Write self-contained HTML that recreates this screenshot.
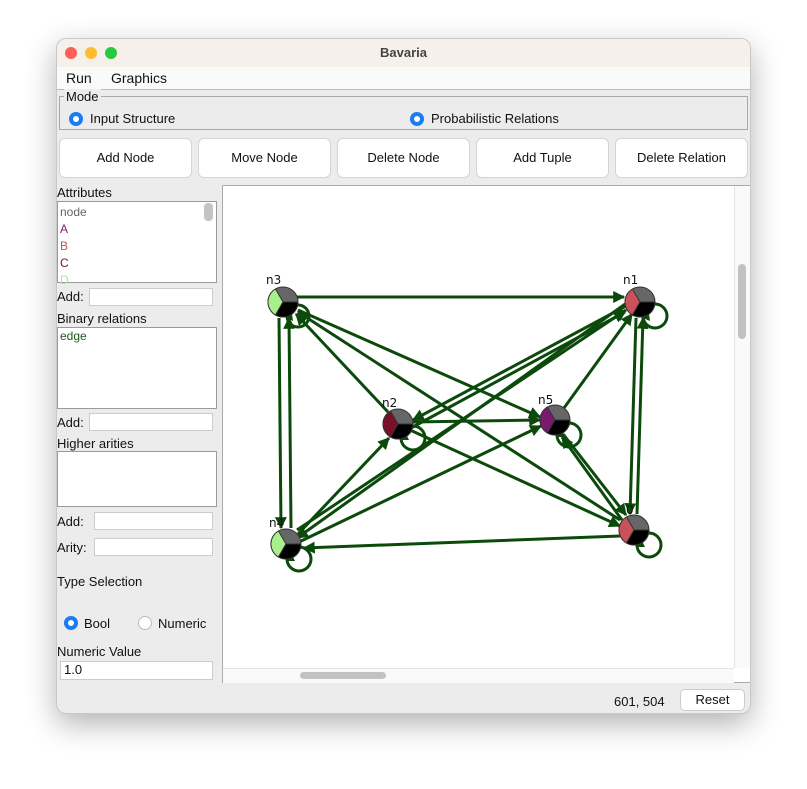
<!DOCTYPE html>
<html><head><meta charset="utf-8"><style>
body{margin:0;width:807px;height:789px;background:#fff;font-family:"Liberation Sans",sans-serif;font-size:13px;color:#111;position:relative;overflow:hidden}
.win{position:absolute;left:56px;top:38px;width:695px;height:676px;background:#ececec;border-radius:10px;box-shadow:0 10px 30px rgba(0,0,0,.3);overflow:hidden;border:1px solid #c8c8c8;box-sizing:border-box}
.abs{position:absolute}
.title{left:0;top:0;width:100%;height:28px;background:#f6f0ea;border-bottom:1px solid #d8d8d8;text-align:center;line-height:28px;font-weight:bold;color:#444}
.dot{width:12px;height:12px;border-radius:50%;top:8px}
.menu{top:28px;left:0;width:100%;height:22px;background:#fafafa;border-bottom:1px solid #bbb}
.btn{top:100px;width:131px;height:38px;background:#fff;border-radius:5px;box-shadow:0 0 0 1px #d4d4d4;text-align:center;line-height:38px;font-size:13px}
.box{background:#fff;border:1px solid #9a9a9a;box-sizing:border-box}
.field{background:#fff;border:1px solid #ccc;box-sizing:border-box;height:18px}
.radio{width:14px;height:14px;border-radius:50%;background:#1a7cf5;box-sizing:border-box}
.radio::after{content:"";position:absolute;left:4px;top:4px;width:6px;height:6px;border-radius:50%;background:#fff}
</style></head><body>
<div class="win">
 <div class="abs title">Bavaria</div>
 <div class="abs dot" style="left:8px;background:#fe5f57"></div>
 <div class="abs dot" style="left:28px;background:#febc2e"></div>
 <div class="abs dot" style="left:48px;background:#28c840"></div>
 <div class="abs menu"><span class="abs" style="left:9px;top:3px;font-size:14px">Run</span><span class="abs" style="left:54px;top:3px;font-size:14px">Graphics</span></div>
 <div class="abs" style="left:2px;top:57px;width:689px;height:34px;border:1px solid #aaa;box-sizing:border-box"></div>
 <div class="abs" style="left:7px;top:50px;background:#ececec;padding:0 2px;font-size:13px">Mode</div>
 <div class="abs radio" style="left:12px;top:73px"></div><div class="abs" style="left:33px;top:72px">Input Structure</div>
 <div class="abs radio" style="left:353px;top:73px"></div><div class="abs" style="left:374px;top:72px">Probabilistic Relations</div>
 <div class="abs btn" style="left:3px">Add Node</div>
 <div class="abs btn" style="left:142px">Move Node</div>
 <div class="abs btn" style="left:281px">Delete Node</div>
 <div class="abs btn" style="left:420px">Add Tuple</div>
 <div class="abs btn" style="left:559px">Delete Relation</div>
 <div class="abs" style="left:0;top:146px">Attributes</div>
 <div class="abs box" style="left:0;top:162px;width:160px;height:82px"></div>
 <div class="abs" style="left:147px;top:164px;width:9px;height:18px;border-radius:4px;background:#c4c4c4"></div>
 <div class="abs" style="left:3px;top:165px;font-size:12px;line-height:17px;color:#666">node<br><span style="color:#7a1a6e">A</span><br><span style="color:#c9525a">B</span><br><span style="color:#7a0f2a">C</span><br><span style="color:#9ef08a">D</span></div>
 <div class="abs" style="left:0;top:250px">Add:</div><div class="abs field" style="left:32px;top:249px;width:124px"></div>
 <div class="abs" style="left:0;top:272px">Binary relations</div>
 <div class="abs box" style="left:0;top:288px;width:160px;height:82px"></div>
 <div class="abs" style="left:3px;top:290px;font-size:12px;color:#1e5a1e">edge</div>
 <div class="abs" style="left:0;top:376px">Add:</div><div class="abs field" style="left:32px;top:374px;width:124px"></div>
 <div class="abs" style="left:0;top:397px">Higher arities</div>
 <div class="abs box" style="left:0;top:412px;width:160px;height:56px"></div>
 <div class="abs" style="left:0;top:475px">Add:</div><div class="abs field" style="left:37px;top:473px;width:119px"></div>
 <div class="abs" style="left:0;top:501px">Arity:</div><div class="abs field" style="left:37px;top:499px;width:119px"></div>
 <div class="abs" style="left:0;top:535px">Type Selection</div>
 <div class="abs radio" style="left:7px;top:577px"></div><div class="abs" style="left:27px;top:577px">Bool</div>
 <div class="abs" style="left:81px;top:577px;width:14px;height:14px;border-radius:50%;background:#fff;border:1px solid #bbb;box-sizing:border-box"></div><div class="abs" style="left:101px;top:577px">Numeric</div>
 <div class="abs" style="left:0;top:605px">Numeric Value</div>
 <div class="abs field" style="left:3px;top:622px;width:153px;height:19px;padding-left:3px">1.0</div>
 <div class="abs" style="left:165px;top:146px;width:529px;height:498px;background:#fff;border:1px solid #aaa;box-sizing:border-box"></div>
 <div class="abs" style="left:677px;top:147px;width:16px;height:482px;background:#fafafa;border-left:1px solid #e4e4e4"></div>
 <div class="abs" style="left:681px;top:225px;width:8px;height:75px;border-radius:4px;background:#c2c2c2"></div>
 <div class="abs" style="left:166px;top:629px;width:511px;height:14px;background:#fafafa;border-top:1px solid #e4e4e4"></div>
 <div class="abs" style="left:243px;top:633px;width:86px;height:7px;border-radius:4px;background:#c2c2c2"></div>
 <div class="abs" style="left:557px;top:655px">601, 504</div>
 <div class="abs" style="left:624px;top:651px;width:63px;height:20px;background:#fff;border-radius:4px;box-shadow:0 0 0 1px #ccc;text-align:center;line-height:20px">Reset</div>
</div>
<svg class="abs" style="left:0;top:0" width="807" height="789">
<defs><marker id="a" viewBox="0 0 10 10" refX="9" refY="5" markerWidth="4" markerHeight="4" orient="auto"><path d="M0,0L10,5L0,10z" fill="#0c4a0c"/></marker></defs>
<g stroke="#0c4a0c" stroke-width="3" fill="none" marker-end="url(#a)">
<line x1="297" y1="297" x2="624" y2="297"/>
<line x1="279" y1="318" x2="281" y2="528"/>
<line x1="291" y1="528" x2="289" y2="318"/>
<line x1="636" y1="318" x2="630" y2="514"/>
<line x1="637" y1="514" x2="643" y2="318"/>
<line x1="563" y1="434" x2="626" y2="515"/>
<line x1="622" y1="520" x2="562" y2="437"/>
<line x1="388" y1="412" x2="296" y2="314"/>
<line x1="620" y1="520" x2="298" y2="312"/>
<line x1="298" y1="310" x2="540" y2="417"/>
<line x1="298" y1="534" x2="389" y2="438"/>
<line x1="626" y1="306" x2="413" y2="420"/>
<line x1="411" y1="428" x2="625" y2="312"/>
<line x1="412" y1="422" x2="540" y2="420"/>
<line x1="297" y1="530" x2="626" y2="310"/>
<line x1="628" y1="302" x2="297" y2="538"/>
<line x1="299" y1="542" x2="541" y2="426"/>
<line x1="564" y1="408" x2="632" y2="314"/>
<line x1="410" y1="430" x2="620" y2="526"/>
<line x1="620" y1="536" x2="304" y2="548"/>
</g>
<g stroke="#0c4a0c" stroke-width="3" fill="none">
<circle cx="298" cy="316" r="11"/><circle cx="655" cy="316" r="12"/><circle cx="413" cy="438" r="12"/><circle cx="569" cy="435" r="12"/><circle cx="649" cy="545" r="12"/><circle cx="299" cy="559" r="12"/>
</g>
<g fill="#0c4a0c">
<path d="M286,318l6,-4l1,7z"/><path d="M643,318l6,-4l1,7z"/><path d="M401,440l5,-6l3,6z"/><path d="M557,437l5,-6l3,6z"/><path d="M637,547l5,-6l3,6z"/><path d="M287,561l5,-6l3,6z"/>
</g>
<g stroke="#333" stroke-width="1">
<g transform="translate(283,302)"><circle r="15" fill="#666"/><path d="M0,0L-7.5,-13A15,15 0 0 0 -7.5,13z" fill="#a8f08e"/><path d="M0,0L-7.5,13A15,15 0 0 0 15,0z" fill="#000"/></g>
<g transform="translate(640,302)"><circle r="15" fill="#666"/><path d="M0,0L-7.5,-13A15,15 0 0 0 -7.5,13z" fill="#c9525a"/><path d="M0,0L-7.5,13A15,15 0 0 0 15,0z" fill="#000"/></g>
<g transform="translate(398,424)"><circle r="15" fill="#666"/><path d="M0,0L-7.5,-13A15,15 0 0 0 -7.5,13z" fill="#7a0f2a"/><path d="M0,0L-7.5,13A15,15 0 0 0 15,0z" fill="#000"/></g>
<g transform="translate(555,420)"><circle r="15" fill="#666"/><path d="M0,0L-7.5,-13A15,15 0 0 0 -7.5,13z" fill="#7a1a6e"/><path d="M0,0L-7.5,13A15,15 0 0 0 15,0z" fill="#000"/></g>
<g transform="translate(634,530)"><circle r="15" fill="#666"/><path d="M0,0L-7.5,-13A15,15 0 0 0 -7.5,13z" fill="#c9525a"/><path d="M0,0L-7.5,13A15,15 0 0 0 15,0z" fill="#000"/></g>
<g transform="translate(286,544)"><circle r="15" fill="#666"/><path d="M0,0L-7.5,-13A15,15 0 0 0 -7.5,13z" fill="#a8f08e"/><path d="M0,0L-7.5,13A15,15 0 0 0 15,0z" fill="#000"/></g>
</g>
<g font-family="DejaVu Sans,sans-serif" font-size="12" fill="#111">
<text x="266" y="284">n3</text><text x="623" y="284">n1</text><text x="382" y="407">n2</text><text x="538" y="404">n5</text><text x="626" y="514">0</text><text x="269" y="527">n4</text>
</g>
</svg>
</body></html>
